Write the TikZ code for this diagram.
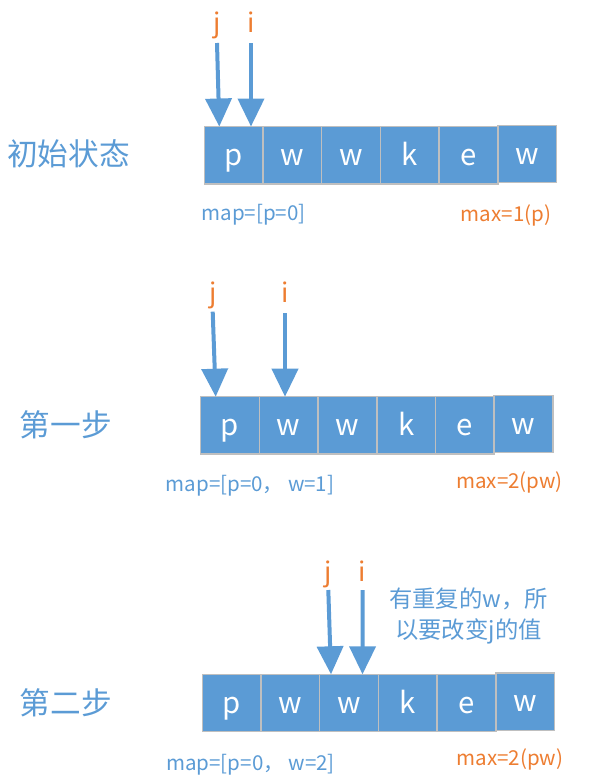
\documentclass[tikz,border=0pt]{standalone}
\usepackage{fontspec}
\setmainfont{Noto Sans CJK SC}
\usepackage{tikz}
\usetikzlibrary{arrows.meta}
\definecolor{cellblue}{RGB}{91,155,213}
\definecolor{markorange}{RGB}{237,125,49}
\definecolor{cellgray}{RGB}{191,191,191}
\tikzset{
	cell/.style={draw=cellgray, line width=1.1pt, fill=cellblue, text=white, minimum width=44pt, minimum height=43pt, inner sep=0pt, text height=17pt, text depth=2pt, font=\fontsize{22}{26}\selectfont},
	pointer/.style={draw=cellblue, line width=3pt, -{Triangle[width=19.5pt,length=21pt]}},
	ptrlabel/.style={text=markorange, anchor=base, inner sep=0pt, font=\fontsize{20}{24}\selectfont},
	steplabel/.style={text=cellblue, inner sep=0pt, font=\fontsize{23}{28}\selectfont},
	maplabel/.style={text=cellblue, inner sep=0pt, font=\fontsize{15.4}{18}\selectfont},
	maxlabel/.style={text=markorange, inner sep=0pt, font=\fontsize{15.4}{18}\selectfont}
}
\begin{document}
\begin{tikzpicture}[x=0.75pt,y=-0.75pt]
	\useasboundingbox (0,0) rectangle (589,783);
	% Cells %
	\foreach \row/\sx/\cy in {1/204.3/155.3, 2/200.7/425.3, 3/202.3/703}
		\foreach \ch [count=\k] in {p,w,w,k,e,w}
			{\node [cell] (c\row\k) at ({\sx+(\k-0.5)*58.7},{\cy-(\k==6)*1.3}) {\ch};}
	% Step Names %
	\node [steplabel] (start) at (68.5,154) {初始状态};
	\node [steplabel] (stepone) at (66,425) {第一步};
	\node [steplabel] (steptwo) at (66,703) {第二步};
	% Pointers %
	\node [ptrlabel] (j1) at (217,32) {j};
	\node [ptrlabel] (i1) at (251,32) {i};
	\coordinate (j1top) at (217,43);
	\coordinate (j1tip) at (219.3,126.5);
	\coordinate (i1top) at (251,43);
	\coordinate (i1tip) at (251,126.5);
	\draw [pointer] (j1top) -- (j1tip);
	\draw [pointer] (i1top) -- (i1tip);
	\node [ptrlabel] (j2) at (213,302) {j};
	\node [ptrlabel] (i2) at (285,302) {i};
	\coordinate (j2top) at (212.7,311.7);
	\coordinate (j2tip) at (215.7,396.7);
	\coordinate (i2top) at (285,313);
	\coordinate (i2tip) at (285,396.7);
	\draw [pointer] (j2top) -- (j2tip);
	\draw [pointer] (i2top) -- (i2tip);
	\node [ptrlabel] (j3) at (328,581.7) {j};
	\node [ptrlabel] (i3) at (362,581.7) {i};
	\coordinate (j3top) at (328.3,590);
	\coordinate (j3tip) at (331,674.3);
	\coordinate (i3top) at (362.7,590);
	\coordinate (i3tip) at (362.5,674.3);
	\draw [pointer] (j3top) -- (j3tip);
	\draw [pointer] (i3top) -- (i3tip);
	% Note %
	\node [text=cellblue, align=center, font=\fontsize{17.5}{23.25}\selectfont] (note) at (468.5,616) {有重复的w，所\\以要改变j的值};
	% Map and Max %
	\node [maplabel] (map1) at (253.5,215) {map=[p=0]};
	\node [maplabel] (map2) at (250,486) {map=[p=0， w=1]};
	\node [maplabel] (map3) at (250.5,765) {map=[p=0， w=2]};
	\node [maxlabel] (max1) at (506,215) {max=1(p)};
	\node [maxlabel] (max2) at (509.5,482) {max=2(pw)};
	\node [maxlabel] (max3) at (510,759) {max=2(pw)};
\end{tikzpicture}
\end{document}
